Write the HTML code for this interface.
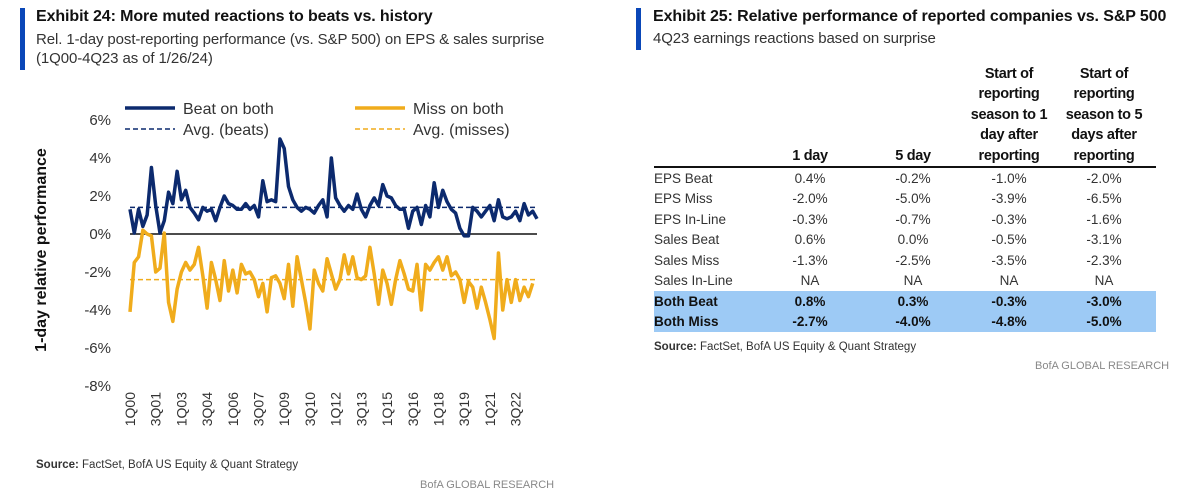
<!DOCTYPE html>
<html><head><meta charset="utf-8"><style>
body{margin:0;width:1200px;height:498px;background:#fff;font-family:"Liberation Sans",sans-serif;position:relative;overflow:hidden;color:#222}
.abs{position:absolute;white-space:nowrap}
.bar{position:absolute;background:#0a47b8;width:5px}
.title{font-weight:bold;font-size:16px;color:#111;letter-spacing:-0.1px}
.sub{font-size:15px;color:#333;letter-spacing:-0.1px}
table{position:absolute;left:654px;top:62px;width:502px;border-collapse:collapse;font-size:13.5px;color:#333;table-layout:fixed}
td,th{padding:0;height:20.5px;text-align:center}
td:first-child,th:first-child{text-align:left}
th{font-weight:bold;font-size:14.5px;color:#111;line-height:20.5px;vertical-align:bottom;border-bottom:2px solid #111;height:104px;letter-spacing:-0.3px}
tr.hl td{background:#9dcaf5;font-weight:bold;color:#111}
</style></head><body>
<div class="bar" style="left:20px;top:8px;height:62px"></div>
<div class="abs title" style="left:36px;top:8px">Exhibit 24: More muted reactions to beats vs. history</div>
<div class="abs sub" style="left:36px;top:30px;line-height:19px">Rel. 1-day post-reporting performance (vs. S&amp;P 500) on EPS &amp; sales surprise<br>(1Q00-4Q23 as of 1/26/24)</div>

<svg id="chart" width="600" height="498" style="position:absolute;left:0;top:0"></svg>

<div class="abs" style="left:36px;top:459px;font-size:11.5px;color:#333"><b>Source:</b> FactSet, BofA US Equity &amp; Quant Strategy</div>
<div class="abs" style="left:420px;top:479px;font-size:11px;color:#888">BofA GLOBAL RESEARCH</div>

<div class="bar" style="left:636px;top:8px;height:42px"></div>
<div class="abs title" style="left:653px;top:8px;font-size:16px">Exhibit 25: Relative performance of reported companies vs. S&amp;P 500</div>
<div class="abs sub" style="left:653px;top:30px">4Q23 earnings reactions based on surprise</div>

<table>
<colgroup><col style="width:106px"><col style="width:100px"><col style="width:106px"><col style="width:86px"><col style="width:104px"></colgroup>
<tr><th></th><th>1 day</th><th>5 day</th><th>Start of<br>reporting<br>season to 1<br>day after<br>reporting</th><th>Start of<br>reporting<br>season to 5<br>days after<br>reporting</th></tr>
<tr><td>EPS Beat</td><td>0.4%</td><td>-0.2%</td><td>-1.0%</td><td>-2.0%</td></tr>
<tr><td>EPS Miss</td><td>-2.0%</td><td>-5.0%</td><td>-3.9%</td><td>-6.5%</td></tr>
<tr><td>EPS In-Line</td><td>-0.3%</td><td>-0.7%</td><td>-0.3%</td><td>-1.6%</td></tr>
<tr><td>Sales Beat</td><td>0.6%</td><td>0.0%</td><td>-0.5%</td><td>-3.1%</td></tr>
<tr><td>Sales Miss</td><td>-1.3%</td><td>-2.5%</td><td>-3.5%</td><td>-2.3%</td></tr>
<tr><td>Sales In-Line</td><td>NA</td><td>NA</td><td>NA</td><td>NA</td></tr>
<tr class="hl"><td>Both Beat</td><td>0.8%</td><td>0.3%</td><td>-0.3%</td><td>-3.0%</td></tr>
<tr class="hl"><td>Both Miss</td><td>-2.7%</td><td>-4.0%</td><td>-4.8%</td><td>-5.0%</td></tr>
</table>
<div class="abs" style="left:654px;top:341px;font-size:11.5px;color:#333"><b>Source:</b> FactSet, BofA US Equity &amp; Quant Strategy</div>
<div class="abs" style="left:1035px;top:360px;font-size:11px;color:#888">BofA GLOBAL RESEARCH</div>

<script>
const tickLabels=["1Q00","3Q01","1Q03","3Q04","1Q06","3Q07","1Q09","3Q10","1Q12","3Q13","1Q15","3Q16","1Q18","3Q19","1Q21","3Q22"];
const yTicks=[6,4,2,0,-2,-4,-6,-8];
const beatOnBoth=[1.3,0.05,1.3,0.4,1.0,3.5,1.5,0.05,0.7,2.2,1.6,3.3,1.8,2.3,1.4,1.1,0.75,1.4,1.2,1.3,0.7,1.4,2.0,1.6,1.5,1.3,1.3,1.6,1.3,1.5,0.9,2.8,1.7,1.8,1.7,5.0,4.5,2.5,1.8,1.4,1.2,1.4,1.3,1.1,1.5,1.8,0.9,4.0,1.9,1.5,1.2,1.5,1.3,2.1,1.3,0.9,1.5,1.9,1.5,2.6,2.0,1.9,1.5,1.3,1.3,0.3,1.2,1.4,0.5,1.5,0.9,2.7,1.4,2.3,1.7,1.3,1.1,0.3,-0.1,-0.1,1.4,1.2,0.9,1.2,1.5,0.7,1.8,0.9,0.8,0.9,1.2,0.7,1.6,1.0,1.2,0.8];
const missOnBoth=[-4.1,-1.5,-1.2,0.2,0.0,-0.1,-2.0,-1.8,0.05,-3.6,-4.6,-2.9,-2.0,-1.5,-1.9,-1.6,-0.7,-2.2,-3.9,-1.5,-2.4,-3.5,-1.4,-3.0,-1.9,-3.1,-1.6,-2.1,-2.0,-2.4,-3.3,-2.6,-4.1,-2.3,-2.2,-2.6,-3.4,-1.6,-3.8,-1.2,-2.4,-3.6,-5.0,-1.9,-2.6,-3.0,-1.3,-2.1,-2.9,-2.4,-1.1,-2.1,-1.2,-2.3,-2.4,-2.2,-0.7,-2.1,-3.7,-1.9,-2.6,-3.7,-2.4,-1.4,-2.1,-2.9,-3.0,-1.6,-4.0,-1.6,-1.9,-1.5,-1.2,-1.9,-1.2,-2.2,-2.0,-2.4,-3.6,-2.5,-2.8,-3.9,-2.8,-3.6,-4.5,-5.5,-1.0,-4.0,-2.4,-3.6,-2.4,-3.5,-2.8,-3.3,-2.6];
const avgBeats=1.4;
const avgMisses=-2.4;

const svg=document.getElementById('chart');
const NS='http://www.w3.org/2000/svg';
const n=96, x0=130, x1=537;
const xs=i=>x0+i*(x1-x0)/(n-1);
const ys=v=>234-v*19;
function mk(tag,attrs,parent){const e=document.createElementNS(NS,tag);for(const k in attrs)e.setAttribute(k,attrs[k]);(parent||svg).appendChild(e);return e;}
yTicks.forEach(t=>{
  const e=mk('text',{x:111,y:ys(t)+5,'text-anchor':'end','font-size':15,fill:'#333','font-family':'Liberation Sans'});
  
  
  e.textContent=t+'%';
});
tickLabels.forEach((l,k)=>{
  const x=xs(k*6);
  const e=mk('text',{x:0,y:0,transform:`translate(${x+5},392) rotate(-90)`,'text-anchor':'end','font-size':14,fill:'#333','font-family':'Liberation Sans'});
  
  
  e.textContent=l;
});
const yt=mk('text',{x:0,y:0,transform:'translate(46,250) rotate(-90)','text-anchor':'middle','font-size':16,'font-weight':'bold',fill:'#111','font-family':'Liberation Sans'});


yt.textContent='1-day relative performance';
const zl=mk('line',{x1:x0,x2:x1,y1:ys(0),y2:ys(0),stroke:'#111','stroke-width':1.5});


const ab=mk('line',{x1:x0,x2:x1,y1:ys(avgBeats),y2:ys(avgBeats),stroke:'#0c2a6e','stroke-width':1.5,'stroke-dasharray':'5,3'});


const am=mk('line',{x1:x0,x2:x1,y1:ys(avgMisses),y2:ys(avgMisses),stroke:'#f0ac1c','stroke-width':1.5,'stroke-dasharray':'5,3'});


const pb=mk('polyline',{points:beatOnBoth.map((v,i)=>xs(i)+','+ys(v)).join(' '),fill:'none',stroke:'#0c2a6e','stroke-width':3.5,'stroke-linejoin':'round'});


const pm=mk('polyline',{points:missOnBoth.map((v,i)=>xs(i)+','+ys(v)).join(' '),fill:'none',stroke:'#f0ac1c','stroke-width':3.5,'stroke-linejoin':'round'});


const legend=[[125,108,'#0c2a6e',false,'Beat on both'],[125,129,'#0c2a6e',true,'Avg. (beats)'],[355,108,'#f0ac1c',false,'Miss on both'],[355,129,'#f0ac1c',true,'Avg. (misses)']];
legend.forEach(L=>{
  const g=mk('g',{});
  
  
  mk('line',{x1:L[0],x2:L[0]+50,y1:L[1],y2:L[1],stroke:L[2],'stroke-width':L[3]?1.5:3.5,'stroke-dasharray':L[3]?'5,3':'none'},g);
  const t=mk('text',{x:L[0]+58,y:L[1]+6,'font-size':16,fill:'#333','font-family':'Liberation Sans'},g);
  t.textContent=L[4];
});
</script>
</body></html>
